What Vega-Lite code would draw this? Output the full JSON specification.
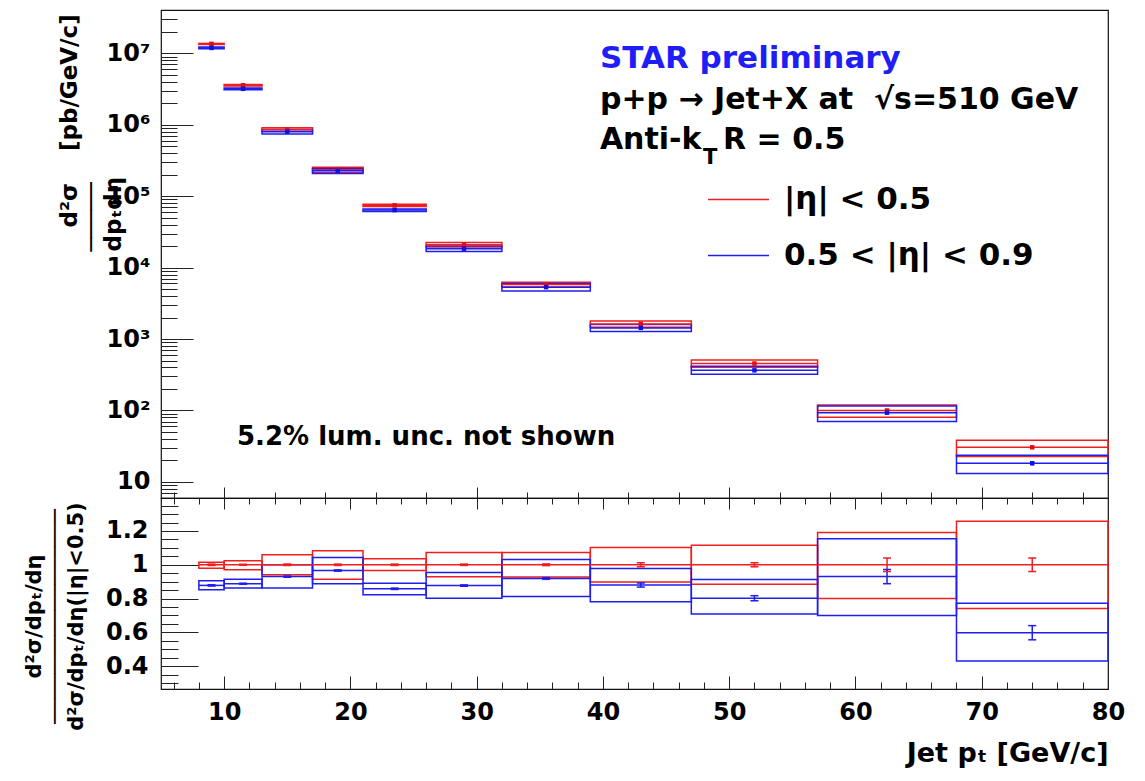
{
"$schema": "https://vega.github.io/schema/vega-lite/v6.json",
"background": "white",
"padding": {"left": 22, "top": 9, "right": 10, "bottom": 5},
"spacing": 0,
"bounds": "flush",
"config": {
  "font": "DejaVu Sans",
  "view": {"stroke": "#111", "strokeWidth": 1.2},
  "axis": {"labelFont": "DejaVu Sans", "labelFontWeight": "bold", "titleFont": "DejaVu Sans", "titleFontWeight": "bold", "labelColor": "#000", "titleColor": "#000", "tickColor": "#222", "tickWidth": 1, "domain": false, "grid": false, "labelOverlap": false, "labelFlush": false, "labelBound": false}
},
"datasets": {"d": [
{"series":"|η| < 0.5","xlo":8,"xhi":10,"xc":9,"v":13600000,"lo":13330000,"hi":13800000,"slo":13550000,"shi":13650000,"r":1,"rlo":0.98,"rhi":1.015,"rslo":0.996,"rshi":1.004},
{"series":"|η| < 0.5","xlo":10,"xhi":13,"xc":11.5,"v":3590000,"lo":3482000,"hi":3676000,"slo":3579000,"shi":3601000,"r":1,"rlo":0.97,"rhi":1.024,"rslo":0.997,"rshi":1.003},
{"series":"|η| < 0.5","xlo":13,"xhi":17,"xc":15,"v":860000,"lo":809300,"hi":910700,"slo":856600,"shi":863400,"r":1,"rlo":0.941,"rhi":1.059,"rslo":0.996,"rshi":1.004},
{"series":"|η| < 0.5","xlo":17,"xhi":21,"xc":19,"v":235000,"lo":215000,"hi":254500,"slo":234100,"shi":235900,"r":1,"rlo":0.915,"rhi":1.083,"rslo":0.996,"rshi":1.004},
{"series":"|η| < 0.5","xlo":21,"xhi":26,"xc":23.5,"v":74500,"lo":71970,"hi":77180,"slo":74200,"shi":74800,"r":1,"rlo":0.966,"rhi":1.036,"rslo":0.996,"rshi":1.004},
{"series":"|η| < 0.5","xlo":26,"xhi":32,"xc":29,"v":21000,"lo":19510,"hi":22530,"slo":20920,"shi":21080,"r":1,"rlo":0.929,"rhi":1.073,"rslo":0.996,"rshi":1.004},
{"series":"|η| < 0.5","xlo":32,"xhi":39,"xc":35.5,"v":5800,"lo":5377,"hi":6223,"slo":5771,"shi":5829,"r":1,"rlo":0.927,"rhi":1.073,"rslo":0.995,"rshi":1.005},
{"series":"|η| < 0.5","xlo":39,"xhi":47,"xc":43,"v":1630,"lo":1464,"hi":1796,"slo":1610,"shi":1650,"r":1,"rlo":0.898,"rhi":1.102,"rslo":0.988,"rshi":1.012},
{"series":"|η| < 0.5","xlo":47,"xhi":57,"xc":52,"v":455,"lo":402.2,"hi":507.8,"slo":449.5,"shi":460.5,"r":1,"rlo":0.884,"rhi":1.116,"rslo":0.988,"rshi":1.012},
{"series":"|η| < 0.5","xlo":57,"xhi":68,"xc":62.5,"v":100,"lo":80.1,"hi":119.1,"slo":96,"shi":104,"r":1,"rlo":0.801,"rhi":1.191,"rslo":0.96,"rshi":1.04},
{"series":"|η| < 0.5","xlo":68,"xhi":80,"xc":74,"v":30.5,"lo":22.6,"hi":38.37,"slo":29.28,"shi":31.72,"r":1,"rlo":0.741,"rhi":1.258,"rslo":0.96,"rshi":1.04},
{"series":"0.5 < |η| < 0.9","xlo":8,"xhi":10,"xc":9,"v":11940000,"lo":11590000,"hi":12310000,"slo":11890000,"shi":12000000,"r":0.878,"rlo":0.852,"rhi":0.905,"rslo":0.874,"rshi":0.882},
{"series":"0.5 < |η| < 0.9","xlo":10,"xhi":13,"xc":11.5,"v":3188000,"lo":3095000,"hi":3285000,"slo":3177000,"shi":3199000,"r":0.888,"rlo":0.862,"rhi":0.915,"rslo":0.885,"rshi":0.891},
{"series":"0.5 < |η| < 0.9","xlo":13,"xhi":17,"xc":15,"v":799800,"lo":741300,"hi":860000,"slo":796400,"shi":803200,"r":0.93,"rlo":0.862,"rhi":1.0,"rslo":0.926,"rshi":0.934},
{"series":"0.5 < |η| < 0.9","xlo":17,"xhi":21,"xc":19,"v":227000,"lo":208700,"hi":245100,"slo":226100,"shi":228000,"r":0.966,"rlo":0.888,"rhi":1.043,"rslo":0.962,"rshi":0.97},
{"series":"0.5 < |η| < 0.9","xlo":21,"xhi":26,"xc":23.5,"v":63920,"lo":61240,"hi":66380,"slo":63620,"shi":64220,"r":0.858,"rlo":0.822,"rhi":0.891,"rslo":0.854,"rshi":0.862},
{"series":"0.5 < |η| < 0.9","xlo":26,"xhi":32,"xc":29,"v":18420,"lo":16840,"hi":20030,"slo":18330,"shi":18500,"r":0.877,"rlo":0.802,"rhi":0.954,"rslo":0.873,"rshi":0.881},
{"series":"0.5 < |η| < 0.9","xlo":32,"xhi":39,"xc":35.5,"v":5330,"lo":4710,"hi":5980,"slo":5301,"shi":5359,"r":0.919,"rlo":0.812,"rhi":1.031,"rslo":0.914,"rshi":0.924},
{"series":"0.5 < |η| < 0.9","xlo":39,"xhi":47,"xc":43,"v":1434,"lo":1273,"hi":1594,"slo":1415,"shi":1454,"r":0.88,"rlo":0.781,"rhi":0.978,"rslo":0.868,"rshi":0.892},
{"series":"0.5 < |η| < 0.9","xlo":47,"xhi":57,"xc":52,"v":364.9,"lo":322.1,"hi":415.4,"slo":358.1,"shi":371.7,"r":0.802,"rlo":0.708,"rhi":0.913,"rslo":0.787,"rshi":0.817},
{"series":"0.5 < |η| < 0.9","xlo":57,"xhi":68,"xc":62.5,"v":93.0,"lo":70.0,"hi":115.4,"slo":88.8,"shi":97.2,"r":0.93,"rlo":0.7,"rhi":1.154,"rslo":0.888,"rshi":0.972},
{"series":"0.5 < |η| < 0.9","xlo":68,"xhi":80,"xc":74,"v":18.24,"lo":13.12,"hi":23.58,"slo":16.96,"shi":19.52,"r":0.598,"rlo":0.43,"rhi":0.773,"rslo":0.556,"rshi":0.64}
]},
"resolve": {"scale": {"x": "independent", "y": "independent", "color": "independent", "stroke": "independent", "fill": "independent"}, "axis": {"x": "independent", "y": "independent"}, "legend": {"stroke": "independent", "color": "independent", "fill": "independent"}},
"vconcat": [
{
  "width": 947, "height": 488,
  "data": {"name": "d"},
  "layer": [
    {"mark": {"type": "rect", "filled": false, "strokeWidth": 1.5},
     "encoding": {
       "x": {"field": "xlo", "type": "quantitative", "scale": {"domain": [5, 80], "nice": false, "zero": false},
             "axis": {"title": null, "labels": false, "labelOverlap": false, "values": [6,8,10,12,14,16,18,20,22,24,26,28,30,32,34,36,38,40,42,44,46,48,50,52,54,56,58,60,62,64,66,68,70,72,74,76,78,80],
                      "tickSize": {"condition": {"test": "datum.value % 10 === 0", "value": -11}, "value": -6}}},
       "x2": {"field": "xhi"},
       "y": {"field": "lo", "type": "quantitative", "scale": {"type": "log", "domain": [5.95, 40500000], "nice": false},
             "axis": {"title": ["\u200b\u00a0\u00a0\u00a0d²σ\u00a0\u00a0\u00a0\u00a0[pb/GeV/c]", "─────", "dpₜdη"],
                      "titleFontSize": 23, "titleAngle": 270, "titleAlign": "left", "titleBaseline": "alphabetic", "titleX": -85, "titleY": 241, "titleLineHeight": 22,
                      "values": [6,7,8,9,10,20,30,40,50,60,70,80,90,100,200,300,400,500,600,700,800,900,1000,2000,3000,4000,5000,6000,7000,8000,9000,10000,20000,30000,40000,50000,60000,70000,80000,90000,100000,200000,300000,400000,500000,600000,700000,800000,900000,1000000,2000000,3000000,4000000,5000000,6000000,7000000,8000000,9000000,10000000,20000000,30000000],
                      "labelExpr": "datum.value == 10 ? '10' : datum.value == 100 ? '10²' : datum.value == 1000 ? '10³' : datum.value == 10000 ? '10⁴' : datum.value == 100000 ? '10⁵' : datum.value == 1000000 ? '10⁶' : datum.value == 10000000 ? '10⁷' : ''",
                      "labelOverlap": false,
                      "labelFontSize": {"condition": {"test": "indexof([10,100,1000,10000,100000,1000000,10000000], datum.value) >= 0", "value": 24}, "value": 1},
                      "labelPadding": 43, "labelBaseline": "middle",
                      "tickSize": {"condition": {"test": "indexof([10,100,1000,10000,100000,1000000,10000000], datum.value) >= 0", "value": -32}, "value": -16}}},
       "y2": {"field": "hi"},
       "stroke": {"field": "series", "type": "nominal", "sort": null,
                  "scale": {"domain": ["|η| < 0.5", "0.5 < |η| < 0.9"], "range": ["#f01e1e", "#1e1ef0"]},
                  "legend": {"orient": "none", "legendX": 546, "legendY": 158, "title": null, "symbolType": "stroke", "symbolSize": 3721, "symbolStrokeWidth": 1.5, "labelFontSize": 31, "labelFont": "DejaVu Sans", "labelFontWeight": "bold", "labelColor": "#000", "labelOffset": 14, "rowPadding": 9, "labelLimit": 600, "padding": 0}}
     }},
    {"mark": {"type": "rule", "strokeWidth": 1.5},
     "encoding": {"x": {"field": "xlo", "type": "quantitative"}, "x2": {"field": "xhi"}, "y": {"field": "v", "type": "quantitative"}, "stroke": {"field": "series", "type": "nominal"}}},
    {"mark": {"type": "rule", "strokeWidth": 1.5},
     "encoding": {"x": {"field": "xc", "type": "quantitative"}, "y": {"field": "slo", "type": "quantitative"}, "y2": {"field": "shi"}, "stroke": {"field": "series", "type": "nominal"}}},
    {"mark": {"type": "square", "size": 20, "opacity": 1},
     "encoding": {"x": {"field": "xc", "type": "quantitative"}, "y": {"field": "v", "type": "quantitative"},
                  "fill": {"field": "series", "type": "nominal", "scale": {"domain": ["|η| < 0.5", "0.5 < |η| < 0.9"], "range": ["#e01010", "#1010e0"]}, "legend": null}}},
    {"data": {"values": [{}]}, "mark": {"type": "text", "text": "STAR preliminary", "align": "left", "baseline": "alphabetic", "font": "DejaVu Sans", "fontWeight": "bold", "fontSize": 31, "color": "#1f1ff5"},
     "encoding": {"x": {"datum": 39.76}, "y": {"datum": 6220000}}},
    {"data": {"values": [{}]}, "mark": {"type": "text", "text": "p+p\u00a0→\u00a0Jet+X at\u00a0\u00a0√s=510 GeV", "align": "left", "baseline": "alphabetic", "font": "DejaVu Sans", "fontWeight": "bold", "fontSize": 30, "color": "#000"},
     "encoding": {"x": {"datum": 39.76}, "y": {"datum": 1655000}}},
    {"data": {"values": [{}]}, "mark": {"type": "text", "text": "Anti-k", "align": "left", "baseline": "alphabetic", "font": "DejaVu Sans", "fontWeight": "bold", "fontSize": 30, "color": "#000"},
     "encoding": {"x": {"datum": 39.76}, "y": {"datum": 455000}}},
    {"data": {"values": [{}]}, "mark": {"type": "text", "text": "T", "align": "left", "baseline": "alphabetic", "font": "DejaVu Sans", "fontWeight": "bold", "fontSize": 21, "color": "#000"},
     "encoding": {"x": {"datum": 47.92}, "y": {"datum": 280000}}},
    {"data": {"values": [{}]}, "mark": {"type": "text", "text": "R = 0.5", "align": "left", "baseline": "alphabetic", "font": "DejaVu Sans", "fontWeight": "bold", "fontSize": 30, "color": "#000"},
     "encoding": {"x": {"datum": 49.51}, "y": {"datum": 455000}}},
    {"data": {"values": [{}]}, "mark": {"type": "text", "text": "5.2% lum. unc. not shown", "align": "left", "baseline": "alphabetic", "font": "DejaVu Sans", "fontWeight": "bold", "fontSize": 26, "color": "#000"},
     "encoding": {"x": {"datum": 11.02}, "y": {"datum": 32.8}}}
  ]
},
{
  "width": 947, "height": 191,
  "data": {"name": "d"},
  "resolve": {"axis": {"x": "independent", "y": "independent"}},
  "layer": [
    {"mark": {"type": "rect", "filled": false, "strokeWidth": 1.5},
     "encoding": {
       "x": {"field": "xlo", "type": "quantitative", "scale": {"domain": [5, 80], "nice": false, "zero": false},
             "axis": {"title": "Jet pₜ [GeV/c]", "titleFontSize": 27, "titleAlign": "right", "titleBaseline": "alphabetic", "titleX": 947, "titleY": 72,
                      "values": [6,8,10,12,14,16,18,20,22,24,26,28,30,32,34,36,38,40,42,44,46,48,50,52,54,56,58,60,62,64,66,68,70,72,74,76,78,80],
                      "labelExpr": "datum.value % 10 === 0 ? datum.value + '' : ''", "labelOverlap": false,
                      "labelFontSize": {"condition": {"test": "datum.value % 10 === 0", "value": 24}, "value": 1},
                      "labelPadding": 24,
                      "tickSize": {"condition": {"test": "datum.value % 10 === 0", "value": -13}, "value": -7}}},
       "x2": {"field": "xhi"},
       "y": {"field": "rlo", "type": "quantitative", "scale": {"domain": [0.265, 1.395], "nice": false, "zero": false},
             "axis": {"title": ["d²σ/dpₜ/dη", "─────────────────", "d²σ/dpₜ/dη(|η|<0.5)"],
                      "titleFontSize": 21, "titleAngle": 270, "titleAlign": "center", "titleBaseline": "alphabetic", "titleX": -121, "titleY": 118, "titleLineHeight": 21,
                      "values": [0.3,0.35,0.4,0.45,0.5,0.55,0.6,0.65,0.7,0.75,0.8,0.85,0.9,0.95,1,1.05,1.1,1.15,1.2,1.25,1.3,1.35],
                      "labelExpr": "datum.value == 1 ? '1' : indexof([0.4,0.6,0.8,1.2], datum.value) >= 0 ? format(datum.value, '.1f') : ''",
                      "labelOverlap": false,
                      "labelFontSize": {"condition": {"test": "indexof([0.4,0.6,0.8,1,1.2], datum.value) >= 0", "value": 24}, "value": 1},
                      "labelPadding": 50, "labelBaseline": "middle",
                      "tickSize": {"condition": {"test": "indexof([0.4,0.6,0.8,1,1.2], datum.value) >= 0", "value": -37}, "value": -17}}},
       "y2": {"field": "rhi"},
       "color": {"field": "series", "type": "nominal", "scale": {"domain": ["|η| < 0.5", "0.5 < |η| < 0.9"], "range": ["#f01e1e", "#1e1ef0"]}, "legend": null}
     }},
    {"mark": {"type": "rule", "strokeWidth": 1.5},
     "encoding": {"x": {"field": "xlo", "type": "quantitative",
                        "axis": {"orient": "top", "title": null, "labels": false, "labelOverlap": false, "values": [6,8,10,12,14,16,18,20,22,24,26,28,30,32,34,36,38,40,42,44,46,48,50,52,54,56,58,60,62,64,66,68,70,72,74,76,78,80],
                                 "tickSize": {"condition": {"test": "datum.value % 10 === 0", "value": -11}, "value": -6}}},
                  "x2": {"field": "xhi"}, "y": {"field": "r", "type": "quantitative", "axis": null}, "color": {"field": "series", "type": "nominal"}}},
    {"mark": {"type": "rule", "strokeWidth": 1.5},
     "encoding": {"x": {"field": "xc", "type": "quantitative", "axis": null}, "y": {"field": "rslo", "type": "quantitative", "axis": null}, "y2": {"field": "rshi"}, "color": {"field": "series", "type": "nominal"}}},
    {"mark": {"type": "tick", "orient": "horizontal", "size": 8, "thickness": 1.5, "opacity": 1},
     "encoding": {"x": {"field": "xc", "type": "quantitative", "axis": null}, "y": {"field": "rslo", "type": "quantitative", "axis": null}, "color": {"field": "series", "type": "nominal"}}},
    {"mark": {"type": "tick", "orient": "horizontal", "size": 8, "thickness": 1.5, "opacity": 1},
     "encoding": {"x": {"field": "xc", "type": "quantitative", "axis": null}, "y": {"field": "rshi", "type": "quantitative", "axis": null}, "color": {"field": "series", "type": "nominal"}}}
  ]
}
]
}
